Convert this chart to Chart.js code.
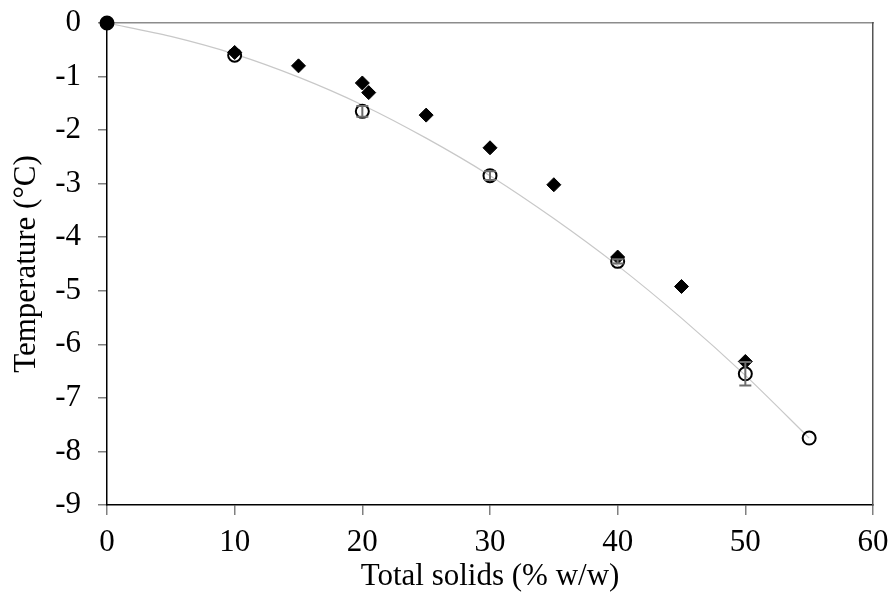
<!DOCTYPE html>
<html>
<head>
<meta charset="utf-8">
<script src="https://cdn.jsdelivr.net/npm/chart.js@4/dist/chart.umd.min.js"></script>
<style>
html,body{margin:0;padding:0;background:#fff;}
#wrap{width:894px;height:605px;position:relative;}
</style>
</head>
<body>
<div id="wrap"><canvas id="c" width="894" height="605"></canvas></div>
<script>
// Diamonds (filled)
const diamondX = [0, 10, 15, 20, 20.5, 25, 30, 35, 40, 45, 50];
const diamondY = [0, -0.55, -0.8, -1.12, -1.3, -1.72, -2.33, -3.02, -4.37, -4.92, -6.32];
// Circles (open) with error bars
const circleX = [0, 10, 20, 30, 40, 50, 55];
const circleY = [0, -0.6, -1.65, -2.85, -4.45, -6.55, -7.75];
const circleErr = [0, 0, 0.1, 0.08, 0.04, 0.22, 0];
// Fitted curve
const curveX = [0, 5, 10, 15, 20, 25, 30, 35, 40, 45, 50, 55];
const curveY = [0, -0.25, -0.58, -1.01, -1.53, -2.15, -2.85, -3.65, -4.53, -5.51, -6.58, -7.75];
// Ticks
const xTicks = [0, 10, 20, 30, 40, 50, 60];
const yTicks = [0, -1, -2, -3, -4, -5, -6, -7, -8, -9];

const FONT = "'Liberation Serif', 'Times New Roman', serif";
const toPts = (xs, ys) => xs.map((x, i) => ({x: x, y: ys[i]}));
const zeroPad = s => { s.paddingTop = 0; s.paddingBottom = 0; s.paddingLeft = 0; s.paddingRight = 0; };

const errorBars = {
  id: 'errorBars',
  afterDatasetsDraw(chart) {
    const ctx = chart.ctx;
    const xs = chart.scales.x, ys = chart.scales.y;
    ctx.save();
    ctx.strokeStyle = '#6e6e6e';
    ctx.lineWidth = 2;
    circleX.forEach((x, i) => {
      const e = circleErr[i];
      if (!e) return;
      const px = xs.getPixelForValue(x);
      const p1 = ys.getPixelForValue(circleY[i] + e);
      const p2 = ys.getPixelForValue(circleY[i] - e);
      ctx.beginPath();
      ctx.moveTo(px, p1); ctx.lineTo(px, p2);
      ctx.moveTo(px - 6, p1); ctx.lineTo(px + 6, p1);
      ctx.moveTo(px - 6, p2); ctx.lineTo(px + 6, p2);
      ctx.stroke();
    });
    ctx.restore();
  }
};

new Chart(document.getElementById('c'), {
  type: 'scatter',
  data: {
    datasets: [
      {
        label: 'diamonds',
        data: toPts(diamondX, diamondY),
        pointStyle: 'rectRot',
        pointRadius: 7,
        pointBackgroundColor: '#000',
        pointBorderColor: '#000',
        pointBorderWidth: 1,
        showLine: false,
        clip: false
      },
      {
        label: 'circles',
        data: toPts(circleX, circleY),
        pointStyle: 'circle',
        pointRadius: 6.5,
        pointBackgroundColor: circleX.map((x, i) => i === 0 ? '#000' : 'rgba(0,0,0,0)'),
        pointBorderColor: '#000',
        pointBorderWidth: 2,
        showLine: false,
        clip: false
      },
      {
        label: 'fit',
        data: toPts(curveX, curveY),
        showLine: true,
        borderColor: '#c8c8c8',
        borderWidth: 1.2,
        pointRadius: 0,
        tension: 0.3,
        fill: false
      }
    ]
  },
  options: {
    responsive: false,
    animation: false,
    events: [],
    layout: { padding: { top: 23, right: 21, bottom: 0, left: 0 } },
    plugins: { legend: { display: false }, tooltip: { enabled: false } },
    scales: {
      x: {
        type: 'linear',
        position: 'bottom',
        min: 0, max: 60,
        afterBuildTicks: s => { s.ticks = xTicks.map(v => ({value: v})); },
        afterFit: s => { s.height = 100; zeroPad(s); },
        ticks: { color: '#000', padding: 9, font: { family: FONT, size: 31 }, maxRotation: 0 },
        grid: { display: true, drawOnChartArea: false, drawTicks: true, tickLength: 10, color: '#808080', lineWidth: 1.5 },
        border: { display: true, color: '#000', width: 1.5 },
        title: { display: true, text: 'Total solids (% w/w)', color: '#000', font: { family: FONT, size: 31 }, padding: { top: 0, bottom: 10 } }
      },
      y: {
        type: 'linear',
        position: 'left',
        min: -9, max: 0,
        afterBuildTicks: s => { s.ticks = yTicks.map(v => ({value: v})); },
        afterFit: s => { s.width = 107; zeroPad(s); },
        ticks: { color: '#000', padding: 17, font: { family: FONT, size: 31 } },
        grid: { display: true, drawOnChartArea: false, drawTicks: true, tickLength: 9, color: '#808080', lineWidth: 1.5 },
        border: { display: true, color: '#000', width: 1.5 },
        title: { display: true, text: 'Temperature (°C)', color: '#000', font: { family: FONT, size: 31 }, padding: { top: 8, bottom: 0 } }
      },
      x2: {
        type: 'linear',
        position: 'top',
        min: 0, max: 60,
        afterFit: s => { s.height = 0; zeroPad(s); },
        ticks: { display: false },
        grid: { display: true, drawOnChartArea: false, drawTicks: false },
        border: { display: true, color: '#8c8c8c', width: 1.5 }
      },
      y2: {
        type: 'linear',
        position: 'right',
        min: -9, max: 0,
        afterFit: s => { s.width = 0; zeroPad(s); },
        ticks: { display: false },
        grid: { display: true, drawOnChartArea: false, drawTicks: false },
        border: { display: true, color: '#555', width: 1.5 }
      }
    }
  },
  plugins: [errorBars]
});
</script>
</body>
</html>
